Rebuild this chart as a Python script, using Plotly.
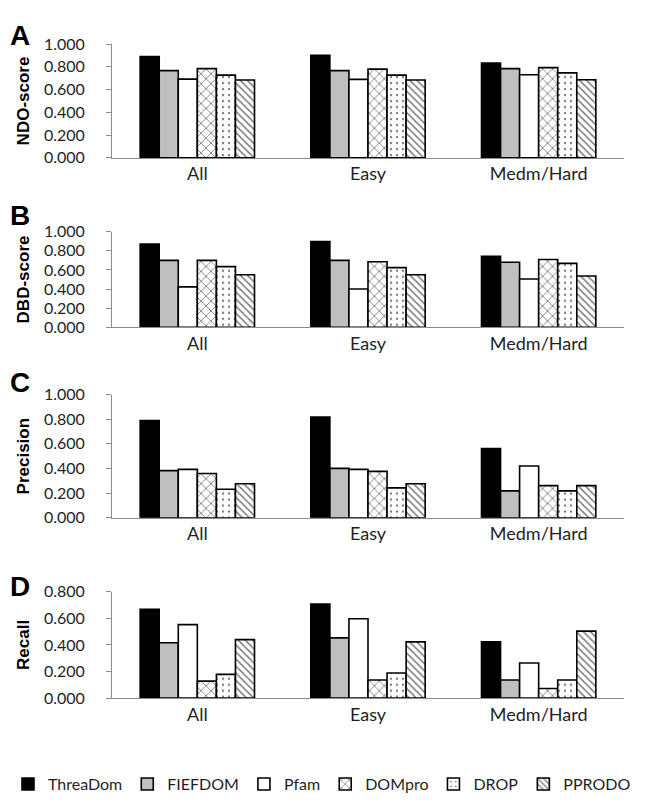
import plotly.graph_objects as go

categories = ["All", "Easy", "Medm/Hard"]
methods = ["ThreaDom", "FIEFDOM", "Pfam", "DOMpro", "DROP", "PPRODO"]

# values per method: [All, Easy, Medm/Hard]
ndo_score = [
    [0.890, 0.902, 0.833],
    [0.767, 0.767, 0.784],
    [0.692, 0.690, 0.730],
    [0.784, 0.780, 0.793],
    [0.727, 0.727, 0.747],
    [0.684, 0.684, 0.687],
]
dbd_score = [
    [0.870, 0.898, 0.744],
    [0.700, 0.700, 0.680],
    [0.423, 0.400, 0.505],
    [0.700, 0.686, 0.710],
    [0.635, 0.624, 0.669],
    [0.550, 0.550, 0.536],
]
precision = [
    [0.789, 0.818, 0.562],
    [0.383, 0.401, 0.219],
    [0.393, 0.393, 0.420],
    [0.359, 0.377, 0.261],
    [0.232, 0.243, 0.219],
    [0.277, 0.277, 0.261],
]
recall = [
    [0.668, 0.707, 0.423],
    [0.416, 0.453, 0.137],
    [0.553, 0.597, 0.264],
    [0.128, 0.137, 0.073],
    [0.179, 0.189, 0.137],
    [0.440, 0.423, 0.504],
]

panel_letters = ["A", "B", "C", "D"]
y_titles = ["NDO-score", "DBD-score", "Precision", "Recall"]
y_tops = [1.0, 1.0, 1.0, 0.8]
panels = [ndo_score, dbd_score, precision, recall]

# styling
fills = ["#000000", "#bfbfbf", "#ffffff", "#ffffff", "#ffffff", "#ffffff"]
shapes = ["", "", "", "x", ".", "\\"]
pat_sizes = [8, 8, 8, 7, 6, 5]
pat_sol = [0.3, 0.3, 0.3, 0.24, 0.12, 0.32]
domains = [[0.8209, 0.9666], [0.6041, 0.7263], [0.3600, 0.5179], [0.1291, 0.2654]]
x_domain = [104 / 648, 616 / 648]
letter_y = [17.5, 202.5, 373, 582.5]

FONT = "Lato, 'Open Sans', sans-serif"
BOLD = "'Liberation Sans', Arial, sans-serif"
TXT = "#1f1f1f"
AX = "#8c8c8c"

fig = go.Figure()
for p, data in enumerate(panels):
    yname = "y" if p == 0 else f"y{p+1}"
    xname = "x" if p == 0 else f"x{p+1}"
    for m, name in enumerate(methods):
        fig.add_trace(go.Bar(
            x=categories, y=data[m], name=name,
            xaxis=xname, yaxis=yname,
            legendgroup=name, showlegend=(p == 0),
            marker=dict(
                color=fills[m],
                line=dict(color="#000000", width=1.6),
                pattern=dict(shape=shapes[m], fgcolor="#000000", bgcolor="#ffffff",
                             size=pat_sizes[m], solidity=pat_sol[m], fillmode="overlay"),
            ),
        ))

layout = dict(
    width=648, height=800,
    margin=dict(l=0, r=0, t=0, b=0),
    paper_bgcolor="white", plot_bgcolor="white",
    barmode="group", bargap=0.33, bargroupgap=0.0,
    font=dict(family=FONT, size=17, color=TXT),
    legend=dict(orientation="h", x=0, xanchor="left", y=0.019, yanchor="middle",
                font=dict(family=FONT, size=16, color=TXT), traceorder="normal",
                itemwidth=30, tracegroupgap=0),
)
for p in range(4):
    xk = "xaxis" if p == 0 else f"xaxis{p+1}"
    yk = "yaxis" if p == 0 else f"yaxis{p+1}"
    ya = "y" if p == 0 else f"y{p+1}"
    xa = "x" if p == 0 else f"x{p+1}"
    layout[xk] = dict(
        domain=x_domain, anchor=ya, range=[-0.5, 2.5], type="category",
        showline=True, linecolor=AX, linewidth=1, ticks="", showgrid=False,
        zeroline=False, ticklabelstandoff=0,
        tickfont=dict(family=FONT, size=18, color=TXT),
    )
    layout[yk] = dict(
        domain=domains[p], anchor=xa, range=[0, y_tops[p]], dtick=0.2, tick0=0,
        tickformat=".3f", showline=True, linecolor=AX, linewidth=1,
        ticks="outside", ticklen=5, tickcolor=AX, showgrid=False, zeroline=False,
        ticklabelstandoff=18,
        tickfont=dict(family=FONT, size=16, color=TXT),
        title=dict(text=f"<b>{y_titles[p]}</b>", standoff=9,
                   font=dict(family=BOLD, size=17, color="#000000")),
    )
fig.update_layout(**layout)

for p in range(4):
    fig.add_annotation(
        text=f"<b>{panel_letters[p]}</b>", xref="paper", yref="paper",
        x=0.0, xanchor="left", y=1 - letter_y[p] / 800, yanchor="middle",
        showarrow=False, font=dict(family=BOLD, size=28, color="#000000"),
    )

fig.write_html("out.html")
